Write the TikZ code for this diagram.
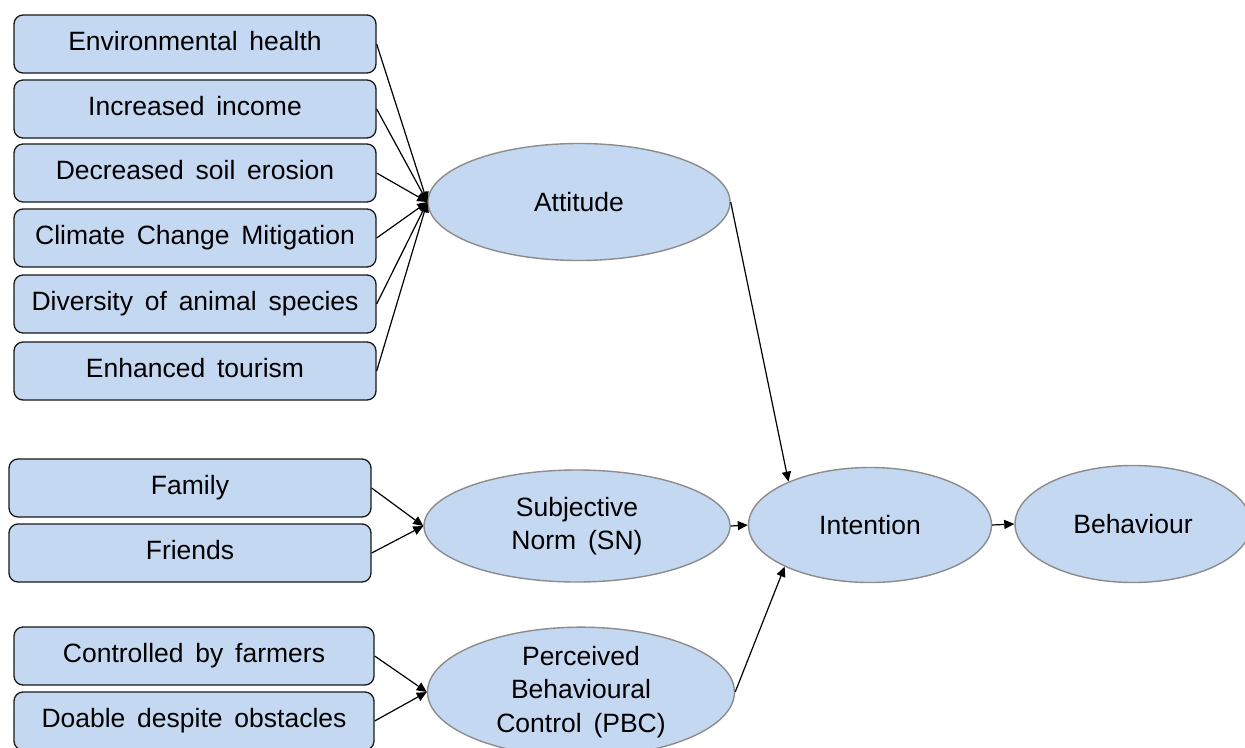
\documentclass[tikz,border=0pt]{standalone}
\usepackage{fontspec}
\setmainfont{Liberation Sans}
\usetikzlibrary{arrows.meta,shapes.geometric}
\definecolor{boxfill}{RGB}{196,216,242}
\definecolor{ellline}{RGB}{140,140,140}
\begin{document}
\begin{tikzpicture}[x=1pt,y=-1pt,
  every node/.style={font=\fontsize{26.5}{33.5}\selectfont},
  factor/.style={draw=black!90,line width=1.3pt,fill=boxfill,rounded corners=9pt,
    minimum width=362pt,minimum height=58pt,inner sep=0pt,text height=19pt,text depth=6pt},
  construct/.style={draw=ellline,line width=1.4pt,fill=boxfill,ellipse,inner sep=0pt,align=center},
  link/.style={line width=1.2pt,-{Triangle[length=10pt,width=9pt]}}]
\clip (0,0) rectangle (1245,747);
\useasboundingbox (0,0) rectangle (1245,747);
% factor boxes
\node[factor] (eh) at (195,44) {Environmental\, health};
\node[factor] (ii) at (195,109) {Increased\, income};
\node[factor] (ds) at (195,173) {Decreased\, soil\, erosion};
\node[factor] (cc) at (195,238) {Climate\, Change\, Mitigation};
\node[factor] (da) at (195,304) {Diversity\, of\, animal\, species};
\node[factor] (et) at (195,371) {Enhanced\, tourism};
\node[factor] (fa) at (190,488) {Family};
\node[factor] (fr) at (190,553) {Friends};
\node[factor,minimum width=360pt] (cf) at (194,656) {Controlled\, by\, farmers};
\node[factor,minimum width=360pt] (do) at (194,721) {Doable\, despite\, obstacles};
% constructs
\node[construct,minimum width=302pt,minimum height=117pt] (att) at (579,202) {Attitude};
\node[construct,minimum width=306pt,minimum height=112pt] (sn) at (577,526) {Subjective\\Norm\, (SN)};
\node[construct,minimum width=307pt,minimum height=112pt] (pbc) at (581,692) {Perceived\\Behavioural\\Control\, (PBC)};
\node[construct,minimum width=243pt,minimum height=115pt] (int) at (870,525) {Intention};
\node[construct,minimum width=236pt,minimum height=117pt] (beh) at (1133,524) {Behaviour};
% connectors
\foreach \s in {eh,ii,ds,cc,da,et} \draw[link] (\s.east) -- (att.west);
\draw[link] (fa.east) -- (sn.west);
\draw[link] (fr.east) -- (sn.west);
\draw[link] (cf.east) -- (pbc.west);
\draw[link] (do.east) -- (pbc.west);
\draw[link] (att.east) -- (int.152);
\draw[link] (sn.east) -- (int.west);
\draw[link] (pbc.east) -- (int.206);
\draw[link] (int.east) -- (beh.west);
\end{tikzpicture}
\end{document}
